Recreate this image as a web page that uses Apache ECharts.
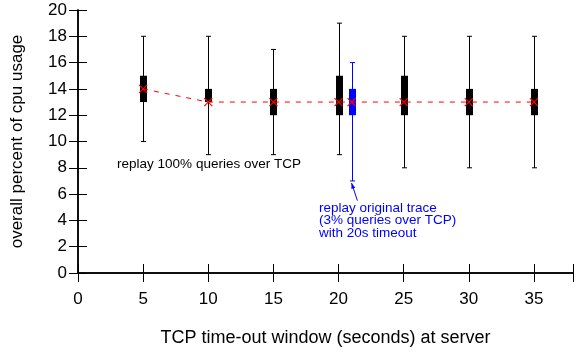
<!DOCTYPE html>
<html><head><meta charset="utf-8">
<script src="https://cdn.jsdelivr.net/npm/echarts@6/dist/echarts.min.js"></script>
<style>html,body{margin:0;padding:0;background:#fff}#c{width:576px;height:352px}</style>
</head><body><div id="c"></div>
<script>
// TCP time-out window (seconds)
const xs = [5, 10, 15, 20, 25, 30, 35];
const lows = [10, 9, 9, 9, 8, 8, 8];
const q1s = [13, 13, 12, 12, 12, 12, 12];
const means = [14, 13, 13, 13, 13, 13, 13];
const q3s = [15, 14, 14, 15, 15, 14, 14];
const highs = [18, 18, 17, 19, 18, 18, 18];
// original trace, 20s timeout (drawn at x=21)
const origX = [21];
const origLow = [7];
const origQ1 = [12];
const origMean = [13];
const origQ3 = [14];
const origHigh = [16];

const xTicks = [0, 5, 10, 15, 20, 25, 30, 35];
const yTicks = [0, 2, 4, 6, 8, 10, 12, 14, 16, 18, 20];

const FONT = '"Liberation Sans", Arial, Helvetica, sans-serif';

const boxData = xs.map((x, i) => [x, lows[i], q1s[i], means[i], q3s[i], highs[i]]);
const origData = origX.map((x, i) => [x, origLow[i], origQ1[i], origMean[i], origQ3[i], origHigh[i]]);
const meanLine = xs.map((x, i) => [x, means[i]]).concat(origX.map((x, i) => [x, origMean[i]])).sort((a, b) => a[0] - b[0]);

function boxRender(color) {
  return function (params, api) {
    const x = api.value(0);
    const pLow = api.coord([x, api.value(1)]);
    const pQ1 = api.coord([x, api.value(2)]);
    const pQ3 = api.coord([x, api.value(4)]);
    const pHigh = api.coord([x, api.value(5)]);
    const cx = Math.round(pLow[0]) + 0.5;
    const bw = 7, cw = 5;
    return {
      type: 'group',
      children: [
        { type: 'line', shape: { x1: cx, y1: pLow[1], x2: cx, y2: pHigh[1] }, style: { stroke: color, lineWidth: 1 } },
        { type: 'line', shape: { x1: cx - cw / 2, y1: pLow[1], x2: cx + cw / 2, y2: pLow[1] }, style: { stroke: color, lineWidth: 1 } },
        { type: 'line', shape: { x1: cx - cw / 2, y1: pHigh[1], x2: cx + cw / 2, y2: pHigh[1] }, style: { stroke: color, lineWidth: 1 } },
        { type: 'rect', shape: { x: cx - bw / 2, y: pQ3[1], width: bw, height: pQ1[1] - pQ3[1] }, style: { fill: color } }
      ]
    };
  };
}
function crossRender(params, api) {
  const p = api.coord([api.value(0), api.value(1)]);
  const s = 4;
  return {
    type: 'group',
    children: [
      { type: 'line', shape: { x1: p[0] - s, y1: p[1] - s, x2: p[0] + s, y2: p[1] + s }, style: { stroke: '#ff0000', lineWidth: 1.2 } },
      { type: 'line', shape: { x1: p[0] - s, y1: p[1] + s, x2: p[0] + s, y2: p[1] - s }, style: { stroke: '#ff0000', lineWidth: 1.2 } }
    ]
  };
}

const chart = echarts.init(document.getElementById('c'), null, { renderer: 'canvas' });
const axisLine = { show: true, lineStyle: { color: '#000', width: 1.5 } };
const tickStyle = { show: true, inside: true, length: 9, lineStyle: { color: '#000', width: 1 } };
chart.setOption({
  animation: false,
  backgroundColor: '#fff',
  grid: { left: 78, right: -1, top: 10, bottom: 79, containLabel: false },
  xAxis: [
    {
      type: 'value', min: 0, max: 38, interval: 5, position: 'bottom',
      axisLine: axisLine, axisTick: tickStyle, splitLine: { show: false },
      axisLabel: { show: true, margin: 18, color: '#000', fontSize: 17, fontFamily: FONT,
        formatter: v => xTicks.includes(v) ? String(v) : '' },
      name: 'TCP time-out window (seconds) at server', nameLocation: 'middle', nameGap: 56,
      nameTextStyle: { color: '#000', fontSize: 18, fontFamily: FONT }
    },
    {
      type: 'value', min: 0, max: 38, interval: 5, position: 'top',
      axisLine: axisLine, axisTick: tickStyle, splitLine: { show: false }, axisLabel: { show: false }
    }
  ],
  yAxis: [
    {
      type: 'value', min: 0, max: 20, interval: 2, position: 'left',
      axisLine: axisLine, axisTick: tickStyle, splitLine: { show: false },
      axisLabel: { margin: 11, color: '#000', fontSize: 17, fontFamily: FONT,
        formatter: v => yTicks.includes(v) ? String(v) : '' },
      name: 'overall percent of cpu usage', nameLocation: 'middle', nameGap: 52,
      nameTextStyle: { color: '#000', fontSize: 17, fontFamily: FONT }
    },
    {
      type: 'value', min: 0, max: 20, interval: 2, position: 'right',
      axisLine: axisLine, axisTick: tickStyle, splitLine: { show: false }, axisLabel: { show: false }
    }
  ],
  series: [
    { type: 'custom', renderItem: boxRender('#000000'), data: boxData, encode: { x: 0, y: [1, 5] }, z: 2 },
    { type: 'custom', renderItem: boxRender('#0000ff'), data: origData, encode: { x: 0, y: [1, 5] }, z: 2 },
    { type: 'line', data: meanLine, symbol: 'none', lineStyle: { color: '#ff0000', width: 1, type: [5, 6] }, z: 3 },
    { type: 'custom', renderItem: crossRender, data: meanLine, encode: { x: 0, y: 1 }, z: 4 }
  ]
});

function px(x, y) { return chart.convertToPixel({ xAxisIndex: 0, yAxisIndex: 0 }, [x, y]); }
const t1 = px(3.0, 8.2);
const t2 = px(18.5, 4.95);
const aFrom = px(21.45, 5.5);
const aTo = px(origX[0], origLow[0]);
const ang = Math.atan2(aTo[1] + 2 - aFrom[1], aTo[0] - aFrom[0]);
const tip = [aTo[0], aTo[1] + 2];
const hl = 6, hw = 0.35;
chart.setOption({
  graphic: [
    { type: 'text', left: t1[0], top: t1[1] - 8, style: { text: 'replay 100% queries over TCP', fill: '#000', font: '13.5px ' + FONT } },
    { type: 'text', left: t2[0], top: t2[1] - 7, style: { text: 'replay original trace\n(3% queries over TCP)\nwith 20s timeout', fill: '#0000ff', font: '13.5px ' + FONT, lineHeight: 12.5 } },
    { type: 'line', shape: { x1: aFrom[0], y1: aFrom[1], x2: tip[0], y2: tip[1] }, style: { stroke: '#0000ff', lineWidth: 1 } },
    { type: 'polygon', shape: { points: [tip,
        [tip[0] - hl * Math.cos(ang - hw), tip[1] - hl * Math.sin(ang - hw)],
        [tip[0] - hl * Math.cos(ang + hw), tip[1] - hl * Math.sin(ang + hw)]] }, style: { fill: '#0000ff' } }
  ]
});
</script></body></html>
